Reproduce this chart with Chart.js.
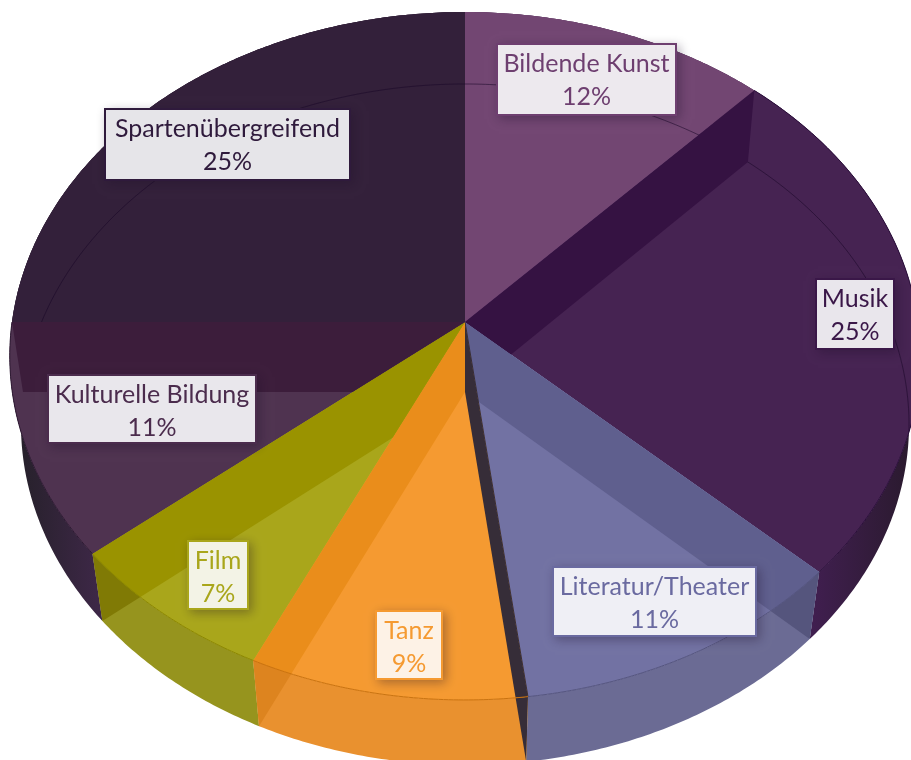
<!DOCTYPE html>
<html><head><meta charset="utf-8">
<style>html,body{margin:0;padding:0;background:#fff}canvas{display:block}</style>
<script src="https://cdn.jsdelivr.net/npm/chart.js@4/dist/chart.umd.min.js"></script>
</head><body><canvas id="c" width="911" height="760"></canvas>
<script>
const categories = ['Bildende Kunst','Musik','Literatur/Theater','Tanz','Film','Kulturelle Bildung','Spartenübergreifend'];
const shares = [12,25,11,9,7,11,25];
const faceColors = ['#724672','#462352','#7272a3','#f59a31','#a9a61b','#4f3350','#33203a'];
const labelInk = ['#6e3f70','#3a1748','#6a6aa0','#f59a31','#a9a61b','#4b2c4d','#2f1a3c'];
const labelFill = ['#ede9ee','#e9e6ec','#efeff5','#fdf2e6','#f3f3e6','#e9e7ec','#e6e5e9'];
const labelBoxes = [[496,43,181,73],[815,278,80,72],[552,566,205,71],[375,610,68,70],[187,540,62,70],[47,374,210,70],[104,108,247,73]];
const wallColors = ['#3a1f45','#3f2050','#6b6b94','#e9912f','#96941e','#3f2b45','#2a1a30'];
const rimColors = [null,'#2a0f3a','#55557f','#c9720f','#8c8700','#2e1a33',null];
// Visible radial cut faces: slice whose edge it follows, which edge, slice it shows through, colours
const cuts = [
  {i:0,edge:'endAngle',face:1,top:'#351242',low:'#351242'},
  {i:2,edge:'startAngle',face:2,top:'#5f5f8e',low:'#55557d'},
  {i:3,edge:'startAngle',face:3,top:'#362d38',low:'#362d38',seam:true},
  {i:3,edge:'endAngle',face:3,top:'#ea8d1b',low:'#dd841f'},
  {i:4,edge:'endAngle',face:4,top:'#9a9300',low:'#807a05'},
  {i:5,edge:'endAngle',face:5,top:'#3c1d3b',low:'#3c1d3b'}
];
// Perspective of the disc: top and bottom faces
const topDisc = {cx:465,cy:322,a:453,b:340.6,k:-0.0988};
const botDisc = {cx:465,cy:392,a:442,b:337.4,k:-0.0954};

function project(d,ang){
  const u=Math.cos(ang), v=Math.sin(ang), w=1+d.k*v;
  return [d.cx+d.a*u/w, d.cy+d.b*v/w];
}
function rimPts(d,s,e){
  const n=Math.max(2,Math.ceil(Math.abs(e-s)/0.01)), out=[];
  for(let i=0;i<=n;i++) out.push(project(d,s+(e-s)*i/n));
  return out;
}
function trace(ctx,pts){
  ctx.beginPath();
  pts.forEach((p,i)=> i?ctx.lineTo(p[0],p[1]):ctx.moveTo(p[0],p[1]));
  ctx.closePath();
}
function strokeLine(ctx,pts,col,w){
  ctx.beginPath();
  pts.forEach((p,i)=> i?ctx.lineTo(p[0],p[1]):ctx.moveTo(p[0],p[1]));
  ctx.strokeStyle=col;ctx.lineWidth=w;ctx.stroke();
}
const disc3d = {
  id:'disc3d',
  beforeDatasetsDraw(chart){
    const ctx=chart.ctx, arcs=chart.getDatasetMeta(0).data;
    const d2r=Math.PI/180;
    const facePoly=arc=>[[topDisc.cx,topDisc.cy]].concat(rimPts(topDisc,arc.startAngle,arc.endAngle));
    const cutPoly=c=>{
      const ang=arcs[c.i][c.edge];
      return [[topDisc.cx,topDisc.cy],project(topDisc,ang),project(botDisc,ang),[botDisc.cx,botDisc.cy]];
    };
    ctx.save();
    // outer walls
    arcs.forEach((arc,i)=>{
      const top=rimPts(topDisc,arc.startAngle,arc.endAngle), bot=rimPts(botDisc,arc.startAngle,arc.endAngle).reverse();
      trace(ctx,top.concat(bot));
      let fill=wallColors[i];
      if(i===1){const g=ctx.createLinearGradient(805,0,911,0);g.addColorStop(0,'#421f52');g.addColorStop(1,'#2a1a2e');fill=g;}
      if(i===5){const g=ctx.createLinearGradient(12,0,108,0);g.addColorStop(0,'#242028');g.addColorStop(1,'#40284a');fill=g;}
      ctx.fillStyle=fill;ctx.fill();
    });
    // cut faces where they overlap the walls
    cuts.forEach(c=>{trace(ctx,cutPoly(c));ctx.fillStyle=c.low;ctx.fill();});
    // top faces
    arcs.forEach(arc=>{
      ctx.fillStyle=arc.options.backgroundColor;
      trace(ctx,facePoly(arc));ctx.fill();ctx.fill();
    });
    // back edge of the bottom face, seen through the top
    ctx.save();trace(ctx,rimPts(topDisc,-Math.PI,Math.PI));ctx.clip();
    strokeLine(ctx,rimPts(botDisc,(282.2-90-360)*d2r,(110-90)*d2r),'rgba(25,8,40,0.55)',1);
    ctx.restore();
    // cut faces seen through each slice
    cuts.forEach(c=>{
      ctx.save();trace(ctx,facePoly(arcs[c.face]));ctx.clip();
      trace(ctx,cutPoly(c));ctx.fillStyle=c.top;ctx.fill();
      ctx.restore();
      if(c.seam){
        const ang=arcs[c.i][c.edge];
        strokeLine(ctx,[[topDisc.cx,topDisc.cy],project(topDisc,ang)],c.top,1);
      }
    });
    // top rim line
    arcs.forEach((arc,i)=>{
      if(rimColors[i]) strokeLine(ctx,rimPts(topDisc,arc.startAngle,arc.endAngle),rimColors[i],1);
    });
    // labels
    arcs.forEach((arc,i)=>{
      const [x,y,w,h]=labelBoxes[i];
      ctx.save();
      ctx.shadowColor='rgba(30,15,40,0.35)';ctx.shadowBlur=10;ctx.shadowOffsetX=3;ctx.shadowOffsetY=3;
      ctx.fillStyle=labelInk[i];ctx.fillRect(x,y,w,h);
      ctx.restore();
      ctx.fillStyle=labelFill[i];ctx.fillRect(x+2,y+2,w-4,h-4);
      ctx.fillStyle=labelInk[i];ctx.font='25px Lato';ctx.textAlign='center';ctx.textBaseline='middle';
      ctx.fillText(chart.data.labels[i],x+w/2,y+21);
      ctx.fillText(chart.data.datasets[0].data[i]+'%',x+w/2,y+54);
    });
    ctx.restore();
    return false;
  }
};
new Chart(document.getElementById('c'),{
  type:'pie',
  data:{labels:categories,datasets:[{data:shares,backgroundColor:faceColors,borderWidth:0}]},
  options:{responsive:false,animation:false,events:[],
    plugins:{legend:{display:false},tooltip:{enabled:false}}},
  plugins:[disc3d]
});
</script></body></html>
